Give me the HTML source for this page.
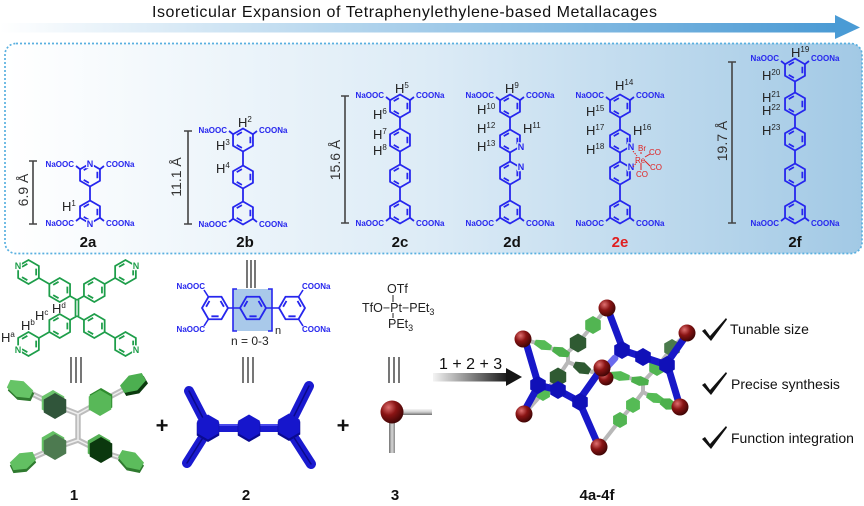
<!DOCTYPE html>
<html><head><meta charset="utf-8"><style>
html,body{margin:0;padding:0;background:#fff;}
svg{display:block;}
text{font-family:"Liberation Sans",Arial,sans-serif;}
</style></head><body>
<svg width="864" height="506" viewBox="0 0 864 506" xmlns="http://www.w3.org/2000/svg">
<defs>
<linearGradient id="bar" x1="0" x2="1"><stop offset="0" stop-color="#ffffff"/><stop offset="1" stop-color="#4a9ad4"/></linearGradient>
<linearGradient id="panel" x1="0" x2="1"><stop offset="0" stop-color="#ffffff"/><stop offset=".5" stop-color="#dcebf6"/><stop offset="1" stop-color="#a2c9e5"/></linearGradient>
<linearGradient id="arr" x1="0" x2="1"><stop offset="0" stop-color="#f4f4f4"/><stop offset="1" stop-color="#151515"/></linearGradient>
<radialGradient id="ball" cx=".35" cy=".3" r=".75"><stop offset="0" stop-color="#e07070"/><stop offset=".45" stop-color="#8a1414"/><stop offset="1" stop-color="#3a0404"/></radialGradient>
<linearGradient id="rodh" x1="0" y1="0" x2="0" y2="1"><stop offset="0" stop-color="#f6f6f6"/><stop offset=".5" stop-color="#cfcfcf"/><stop offset="1" stop-color="#707070"/></linearGradient>
<linearGradient id="rodv" x1="0" y1="0" x2="1" y2="0"><stop offset="0" stop-color="#707070"/><stop offset=".5" stop-color="#d8d8d8"/><stop offset="1" stop-color="#8a8a8a"/></linearGradient>
<g id="ring" fill="none"><path d="M0,-11.5L9.96,-5.75L9.96,5.75L0,11.5L-9.96,5.75L-9.96,-5.75Z"/><path d="M7.36,-3.2V3.2M-1.1,7.86L-6.26,4.89M-6.26,-4.89L-1.1,-7.86"/></g>
<polygon id="hx" points="0,-1 .866,-.5 .866,.5 0,1 -.866,.5 -.866,-.5"/>
</defs>

<!-- Title & top arrow -->
<text x="152" y="17" font-size="16" fill="#111" textLength="505" lengthAdjust="spacing">Isoreticular Expansion of Tetraphenylethylene-based Metallacages</text>
<rect x="0" y="23" width="838" height="9.5" fill="url(#bar)"/>
<polygon points="835,15 860,27.5 835,39" fill="#4a9bd5"/>

<!-- Panel -->
<rect x="5" y="43.5" width="857" height="210" rx="11" fill="url(#panel)" stroke="#5ab0e0" stroke-width="1.7" stroke-dasharray="2 2"/>

<!-- Scale bars -->
<g stroke="#444" stroke-width="1.6" fill="none">
<path d="M33,161V224M29,161H37M29,224H37"/>
<path d="M188,131V224M184,131H192M184,224H192"/>
<path d="M345,96V223M341,96H349M341,223H349"/>
<path d="M732,62V223M728,62H736M728,223H736"/>
</g>
<g font-size="14" fill="#333" text-anchor="middle">
<text transform="translate(28,190) rotate(-90)">6.9 Å</text>
<text transform="translate(181,177) rotate(-90)">11.1 Å</text>
<text transform="translate(340,160) rotate(-90)">15.6 Å</text>
<text transform="translate(727,141) rotate(-90)">19.7 Å</text>
</g>

<!-- Blue structures -->
<g stroke="#2626ee" stroke-width="1.8" fill="none">
<!-- 2a -->
<use href="#ring" x="90" y="175"/><use href="#ring" x="90" y="212"/>
<path d="M90,186.5V200.5M80,169.2L76,166M100,169.2L104,166M80,217.8L76,221M100,217.8L104,221"/>
<!-- 2b -->
<use href="#ring" x="243" y="140"/><use href="#ring" x="243" y="177"/><use href="#ring" x="243" y="213"/>
<path d="M243,151.5V165.5M243,188.5V201.5M233,134.2L229,131M253,134.2L257,131M233,218.8L229,222M253,218.8L257,222"/>
<!-- 2c -->
<use href="#ring" x="400" y="106"/><use href="#ring" x="400" y="140"/><use href="#ring" x="400" y="176"/><use href="#ring" x="400" y="212"/>
<path d="M400,117.5V128.5M400,151.5V164.5M400,187.5V200.5M390,100.2L386,97M410,100.2L414,97M390,217.8L386,221M410,217.8L414,221"/>
<!-- 2d -->
<use href="#ring" x="510" y="106"/><use href="#ring" x="510" y="141"/><use href="#ring" x="510" y="173"/><use href="#ring" x="510" y="212"/>
<path d="M510,117.5V129.5M510,152.5V161.5M510,184.5V200.5M500,100.2L496,97M520,100.2L524,97M500,217.8L496,221M520,217.8L524,221"/>
<!-- 2e -->
<use href="#ring" x="620" y="106"/><use href="#ring" x="620" y="141"/><use href="#ring" x="620" y="173"/><use href="#ring" x="620" y="212"/>
<path d="M620,117.5V129.5M620,152.5V161.5M620,184.5V200.5M610,100.2L606,97M630,100.2L634,97M610,217.8L606,221M630,217.8L634,221"/>
<!-- 2f -->
<use href="#ring" x="795" y="70"/><use href="#ring" x="795" y="104"/><use href="#ring" x="795" y="139"/><use href="#ring" x="795" y="175"/><use href="#ring" x="795" y="212"/>
<path d="M795,81.5V92.5M795,115.5V127.5M795,150.5V163.5M795,186.5V200.5M785,64.2L781,61M805,64.2L809,61M785,217.8L781,221M805,217.8L809,221"/>
</g>

<g font-size="8" font-weight="bold" fill="#2626ee">
<text x="74" y="167" text-anchor="end">NaOOC</text><text x="106" y="167">COONa</text>
<text x="74" y="226" text-anchor="end">NaOOC</text><text x="106" y="226">COONa</text>
<text x="227" y="133" text-anchor="end">NaOOC</text><text x="259" y="133">COONa</text>
<text x="227" y="227" text-anchor="end">NaOOC</text><text x="259" y="227">COONa</text>
<text x="384" y="98" text-anchor="end">NaOOC</text><text x="416" y="98">COONa</text>
<text x="384" y="226" text-anchor="end">NaOOC</text><text x="416" y="226">COONa</text>
<text x="494" y="98" text-anchor="end">NaOOC</text><text x="526" y="98">COONa</text>
<text x="494" y="226" text-anchor="end">NaOOC</text><text x="526" y="226">COONa</text>
<text x="604" y="98" text-anchor="end">NaOOC</text><text x="636" y="98">COONa</text>
<text x="604" y="226" text-anchor="end">NaOOC</text><text x="636" y="226">COONa</text>
<text x="779" y="61" text-anchor="end">NaOOC</text><text x="811" y="61">COONa</text>
<text x="779" y="226" text-anchor="end">NaOOC</text><text x="811" y="226">COONa</text>
</g>
<g font-size="9" font-weight="bold" fill="#2626ee" text-anchor="middle" stroke-width="2.5" paint-order="stroke">
<text x="90" y="167" stroke="#f8fbfd">N</text>
<text x="90" y="227" stroke="#f8fbfd">N</text>
<text x="521" y="150" stroke="#d3e5f2">N</text>
<text x="521" y="170" stroke="#d3e5f2">N</text>
<text x="631" y="150" stroke="#c3dcee">N</text>
<text x="631" y="170" stroke="#c3dcee">N</text>
</g>

<!-- Re complex -->
<g stroke="#e02020" stroke-width="1" fill="none">
<path d="M633,151L637,156M633,167L637,162" stroke-dasharray="1.5 1.2"/>
<path d="M645,157L650,154M645,161L650,166M641,163L641,170M641,152V154"/>
</g>
<g font-size="8" fill="#e02020">
<text x="638" y="151">Br</text>
<text x="635" y="163">Re</text>
<text x="649" y="155">CO</text>
<text x="650" y="170">CO</text>
<text x="636" y="177">CO</text>
</g>

<!-- H labels -->
<g font-size="13" fill="#222">
<text x="62" y="211">H<tspan font-size="8" dy="-5">1</tspan></text>
<text x="238" y="127">H<tspan font-size="8" dy="-5">2</tspan></text>
<text x="216" y="150">H<tspan font-size="8" dy="-5">3</tspan></text>
<text x="216" y="173">H<tspan font-size="8" dy="-5">4</tspan></text>
<text x="395" y="93">H<tspan font-size="8" dy="-5">5</tspan></text>
<text x="373" y="119">H<tspan font-size="8" dy="-5">6</tspan></text>
<text x="373" y="139">H<tspan font-size="8" dy="-5">7</tspan></text>
<text x="373" y="155">H<tspan font-size="8" dy="-5">8</tspan></text>
<text x="505" y="93">H<tspan font-size="8" dy="-5">9</tspan></text>
<text x="477" y="114">H<tspan font-size="8" dy="-5">10</tspan></text>
<text x="477" y="133">H<tspan font-size="8" dy="-5">12</tspan></text>
<text x="477" y="151">H<tspan font-size="8" dy="-5">13</tspan></text>
<text x="523" y="133">H<tspan font-size="8" dy="-5">11</tspan></text>
<text x="615" y="90">H<tspan font-size="8" dy="-5">14</tspan></text>
<text x="586" y="116">H<tspan font-size="8" dy="-5">15</tspan></text>
<text x="586" y="135">H<tspan font-size="8" dy="-5">17</tspan></text>
<text x="633" y="135">H<tspan font-size="8" dy="-5">16</tspan></text>
<text x="586" y="154">H<tspan font-size="8" dy="-5">18</tspan></text>
<text x="791" y="57">H<tspan font-size="8" dy="-5">19</tspan></text>
<text x="762" y="80">H<tspan font-size="8" dy="-5">20</tspan></text>
<text x="762" y="102">H<tspan font-size="8" dy="-5">21</tspan></text>
<text x="762" y="115">H<tspan font-size="8" dy="-5">22</tspan></text>
<text x="762" y="135">H<tspan font-size="8" dy="-5">23</tspan></text>
</g>

<!-- compound labels in panel -->
<g font-size="15" font-weight="bold" fill="#111" text-anchor="middle">
<text x="88" y="247">2a</text>
<text x="245" y="247">2b</text>
<text x="400" y="247">2c</text>
<text x="512" y="247">2d</text>
<text x="620" y="247" fill="#e02020">2e</text>
<text x="795" y="247">2f</text>
</g>

<!-- TPE structure (green) -->
<g stroke="#1e9e4a" stroke-width="1.7" fill="none">
<use href="#ring" transform="translate(59.7,290) scale(1.04)"/>
<use href="#ring" transform="translate(94.3,290) scale(1.04)"/>
<use href="#ring" transform="translate(59.7,326) scale(1.04)"/>
<use href="#ring" transform="translate(94.3,326) scale(1.04)"/>
<use href="#ring" transform="translate(28.5,272) scale(1.04)"/>
<use href="#ring" transform="translate(125.5,272) scale(1.04)"/>
<use href="#ring" transform="translate(28.5,344) scale(1.04)"/>
<use href="#ring" transform="translate(125.5,344) scale(1.04)"/>
<path d="M75.5,300V316M78.5,300V316M77,300L70,296M77,300L84,296M77,316L70,320M77,316L84,320M49.3,284L38.9,278M104.7,284L115.1,278M49.3,332L38.9,338M104.7,332L115.1,338"/>
</g>
<g font-size="9" font-weight="bold" fill="#1e9e4a" text-anchor="middle" stroke="#ffffff" stroke-width="2.5" paint-order="stroke">
<text x="18" y="269">N</text>
<text x="136" y="269">N</text>
<text x="18" y="353">N</text>
<text x="136" y="353">N</text>
</g>
<g font-size="13" fill="#222">
<text x="1" y="342">H<tspan font-size="8" dy="-5">a</tspan></text>
<text x="21" y="330">H<tspan font-size="8" dy="-5">b</tspan></text>
<text x="35" y="320">H<tspan font-size="8" dy="-5">c</tspan></text>
<text x="52" y="313">H<tspan font-size="8" dy="-5">d</tspan></text>
</g>

<!-- Compound 2 structure -->
<rect x="233" y="289" width="39" height="42" fill="#a9c9ea"/>
<g stroke="#2626ee" stroke-width="1.6" fill="none">
<use href="#ring" transform="translate(215,308) rotate(90) scale(1.13)"/>
<use href="#ring" transform="translate(253,308) rotate(90) scale(1.13)"/>
<use href="#ring" transform="translate(292,308) rotate(90) scale(1.13)"/>
<path d="M228,308H240M266,308H279M208.5,297L204,290M208.5,319L204,326M298.5,297L303,290M298.5,319L303,326"/>
<path d="M237,289H233V331H237M268,289H272V331H268"/>
</g>
<g font-size="8" font-weight="bold" fill="#2626ee">
<text x="205" y="289" text-anchor="end">NaOOC</text>
<text x="205" y="332" text-anchor="end">NaOOC</text>
<text x="302" y="289">COONa</text>
<text x="302" y="332">COONa</text>
</g>
<text x="275" y="334" font-size="11" fill="#222">n</text>
<text x="231" y="345" font-size="12" fill="#222">n  = 0-3</text>

<!-- Compound 3 structure -->
<g font-size="12.5" fill="#222">
<text x="387" y="293">OTf</text>
<text x="362" y="312">TfO−Pt−PEt<tspan font-size="9" dy="3">3</tspan></text>
<text x="388" y="328">PEt<tspan font-size="9" dy="3">3</tspan></text>
</g>
<path d="M393,295V302M393,313V318" stroke="#222" stroke-width="1"/>

<!-- triple bars -->
<g stroke="#555" stroke-width="1.6">
<path d="M71,357V383M76,357V383M81,357V383"/>
<path d="M243,357V383M248,357V383M253,357V383"/>
<path d="M389,357V383M394,357V383M399,357V383"/>
<path d="M247,260V288M251,260V288M255,260V288"/>
</g>

<!-- 3D model 1 -->
<g stroke-linecap="round" fill="none">
<path d="M78,414V440M78,414L55,405M78,414L102,401M78,440L55,448M78,440L102,452M55,405L22,389M102,401L134,384M55,448L23,462M102,452L131,461" stroke="#bdbdbd" stroke-width="5.5"/>
<path d="M78,414V440M78,414L55,405M78,414L102,401M78,440L55,448M78,440L102,452M55,405L22,389M102,401L134,384M55,448L23,462M102,452L131,461" stroke="#eeeeee" stroke-width="1.5"/>
</g>
<use href="#hx" transform="translate(21,392) rotate(25) scale(14.5,8.5)" fill="#2f7a2f"/>
<use href="#hx" transform="translate(20,389) rotate(25) scale(14.5,8.5)" fill="#66c466"/>
<use href="#hx" transform="translate(135,386) rotate(-30) scale(14.5,8.5)" fill="#0b3a0e"/>
<use href="#hx" transform="translate(133,383) rotate(-30) scale(14.5,8.5)" fill="#4caf50"/>
<use href="#hx" transform="translate(23,464) rotate(-25) scale(14.5,8.5)" fill="#2f7a2f"/>
<use href="#hx" transform="translate(23,461) rotate(-25) scale(14.5,8.5)" fill="#62c062"/>
<use href="#hx" transform="translate(131,463) rotate(30) scale(14.5,8.5)" fill="#2f7a2f"/>
<use href="#hx" transform="translate(131,460) rotate(30) scale(14.5,8.5)" fill="#5cbc5c"/>
<use href="#hx" transform="translate(53,403) scale(13)" fill="#6cc46c"/>
<use href="#hx" transform="translate(55,406) scale(13)" fill="#30553a"/>
<use href="#hx" transform="translate(101,401) scale(13)" fill="#2e8b2e"/>
<use href="#hx" transform="translate(100,403) scale(13)" fill="#58b858"/>
<use href="#hx" transform="translate(53,444) scale(13)" fill="#64c064"/>
<use href="#hx" transform="translate(55,447) scale(13)" fill="#4d7a50"/>
<use href="#hx" transform="translate(99,447) scale(13)" fill="#55b055"/>
<use href="#hx" transform="translate(101,450) scale(13)" fill="#0b380e"/>

<!-- 3D model 2 -->
<g stroke-linecap="round" fill="none">
<path d="M204,420L189,391M204,436L187,463M293,418L309,386M293,436L311,464" stroke="#1a1ad0" stroke-width="10"/>
<path d="M204,420L189,391M204,436L187,463M293,418L309,386M293,436L311,464" stroke="#0a0a8a" stroke-width="1.5"/>
<path d="M208,428H289" stroke="#1a1ad0" stroke-width="8"/>
<path d="M208,425H289" stroke="#5a5af5" stroke-width="1.5"/>
</g>
<use href="#hx" transform="translate(208,429) scale(13)" fill="#0a0a90"/>
<use href="#hx" transform="translate(208,427) scale(12.5)" fill="#1616cc"/>
<use href="#hx" transform="translate(249,429) scale(13)" fill="#0a0a90"/>
<use href="#hx" transform="translate(249,427) scale(12.5)" fill="#1616cc"/>
<use href="#hx" transform="translate(289,428) scale(13)" fill="#0a0a90"/>
<use href="#hx" transform="translate(289,426) scale(12.5)" fill="#1616cc"/>

<!-- 3D model 3 -->
<rect x="392" y="409" width="40" height="6" fill="url(#rodh)"/>
<rect x="389" y="412" width="6" height="41" fill="url(#rodv)"/>
<circle cx="392" cy="412" r="11.5" fill="url(#ball)"/>

<!-- plus signs -->
<g font-size="22" font-weight="bold" fill="#111" text-anchor="middle">
<text x="162" y="433">+</text>
<text x="343" y="433">+</text>
</g>

<!-- reaction arrow -->
<rect x="433" y="373" width="76" height="8.5" fill="url(#arr)"/>
<polygon points="506,368 522,377 506,386" fill="#151515"/>
<text x="439" y="369" font-size="16" fill="#111">1 + 2 + 3</text>

<!-- Cage -->
<g stroke-linecap="round" fill="none" stroke="#b8b8b8" stroke-width="4">
<polyline points="607,308 593,325 578,343 568,352 568,362 558,377 543,393 524,414"/>
<polyline points="523,339 543,345 560,352 568,352"/>
<polyline points="568,362 580,367 592,372 602,368"/>
<polyline points="687,333 672,348 657,367 643,382 643,392 633,405 620,420 599,447"/>
<polyline points="606,378 617,375 637,380 643,382"/>
<polyline points="643,392 652,397 665,403 680,407"/>
</g>
<use href="#hx" transform="translate(593,325) scale(9)" fill="#52b552"/>
<use href="#hx" transform="translate(578,343) scale(9.5)" fill="#2f5a32"/>
<use href="#hx" transform="translate(558,377) scale(9.5)" fill="#2f5a32"/>
<use href="#hx" transform="translate(543,393) scale(8)" fill="#55bb55"/>
<use href="#hx" transform="translate(543,345) rotate(20) scale(10,5)" fill="#55bb55"/>
<use href="#hx" transform="translate(561,352) rotate(20) scale(10,5)" fill="#4cb04c"/>
<use href="#hx" transform="translate(582,368) rotate(25) scale(10,6)" fill="#2f5a32"/>
<use href="#hx" transform="translate(620,376) rotate(10) scale(11,5)" fill="#55bb55"/>
<use href="#hx" transform="translate(640,381) rotate(10) scale(10,5)" fill="#4cb04c"/>
<use href="#hx" transform="translate(655,398) rotate(20) scale(10,5)" fill="#55bb55"/>
<use href="#hx" transform="translate(668,404) rotate(20) scale(9,6)" fill="#4cb04c"/>
<use href="#hx" transform="translate(672,348) scale(9)" fill="#4a7a4c"/>
<use href="#hx" transform="translate(657,367) scale(9)" fill="#52b552"/>
<use href="#hx" transform="translate(633,405) scale(8)" fill="#55bb55"/>
<use href="#hx" transform="translate(620,420) scale(8)" fill="#52b552"/>
<g stroke-linecap="round" fill="none" stroke="#1818c8" stroke-width="7">
<polyline points="538,385 558,390 580,402"/>
<line x1="527" y1="346" x2="537" y2="380"/>
<line x1="536" y1="390" x2="526" y2="408"/>
<line x1="582" y1="408" x2="596" y2="440"/>
<line x1="582" y1="396" x2="599" y2="372"/>
<line x1="610" y1="315" x2="621" y2="344"/>
<polyline points="622,350 643,357 667,365"/>
<line x1="669" y1="360" x2="683" y2="340"/>
<line x1="669" y1="370" x2="678" y2="400"/>
<line x1="615" y1="358" x2="604" y2="370" stroke="#6a6aee"/>
</g>
<use href="#hx" transform="translate(538,385) scale(9)" fill="#1010b8"/>
<use href="#hx" transform="translate(558,390) scale(9)" fill="#1010b8"/>
<use href="#hx" transform="translate(580,402) scale(9)" fill="#1010b8"/>
<use href="#hx" transform="translate(622,350) scale(9)" fill="#1010b8"/>
<use href="#hx" transform="translate(643,357) scale(9)" fill="#1010b8"/>
<use href="#hx" transform="translate(667,365) scale(9)" fill="#1010b8"/>
<g fill="url(#ball)">
<circle cx="607" cy="308" r="8.5"/>
<circle cx="523" cy="339" r="8.5"/>
<circle cx="687" cy="333" r="8.5"/>
<circle cx="606" cy="378" r="7.5"/>
<circle cx="602" cy="368" r="8.5"/>
<circle cx="524" cy="414" r="8.5"/>
<circle cx="680" cy="407" r="8.5"/>
<circle cx="599" cy="447" r="8.5"/>
</g>

<!-- checks -->
<g fill="#111">
<polygon points="702,331 705,329 710,336 726,318 727,319.5 711,341"/>
<polygon points="702,385 705,383 710,390 726,372 727,373.5 711,395"/>
<polygon points="702,439 705,437 710,444 726,426 727,427.5 711,449"/>
</g>
<g font-size="14" fill="#111">
<text x="730" y="334">Tunable size</text>
<text x="731" y="389">Precise synthesis</text>
<text x="731" y="443">Function integration</text>
</g>

<!-- bottom labels -->
<g font-size="15" font-weight="bold" fill="#111" text-anchor="middle">
<text x="74" y="500">1</text>
<text x="246" y="500">2</text>
<text x="395" y="500">3</text>
<text x="597" y="500">4a-4f</text>
</g>
</svg>
</body></html>
